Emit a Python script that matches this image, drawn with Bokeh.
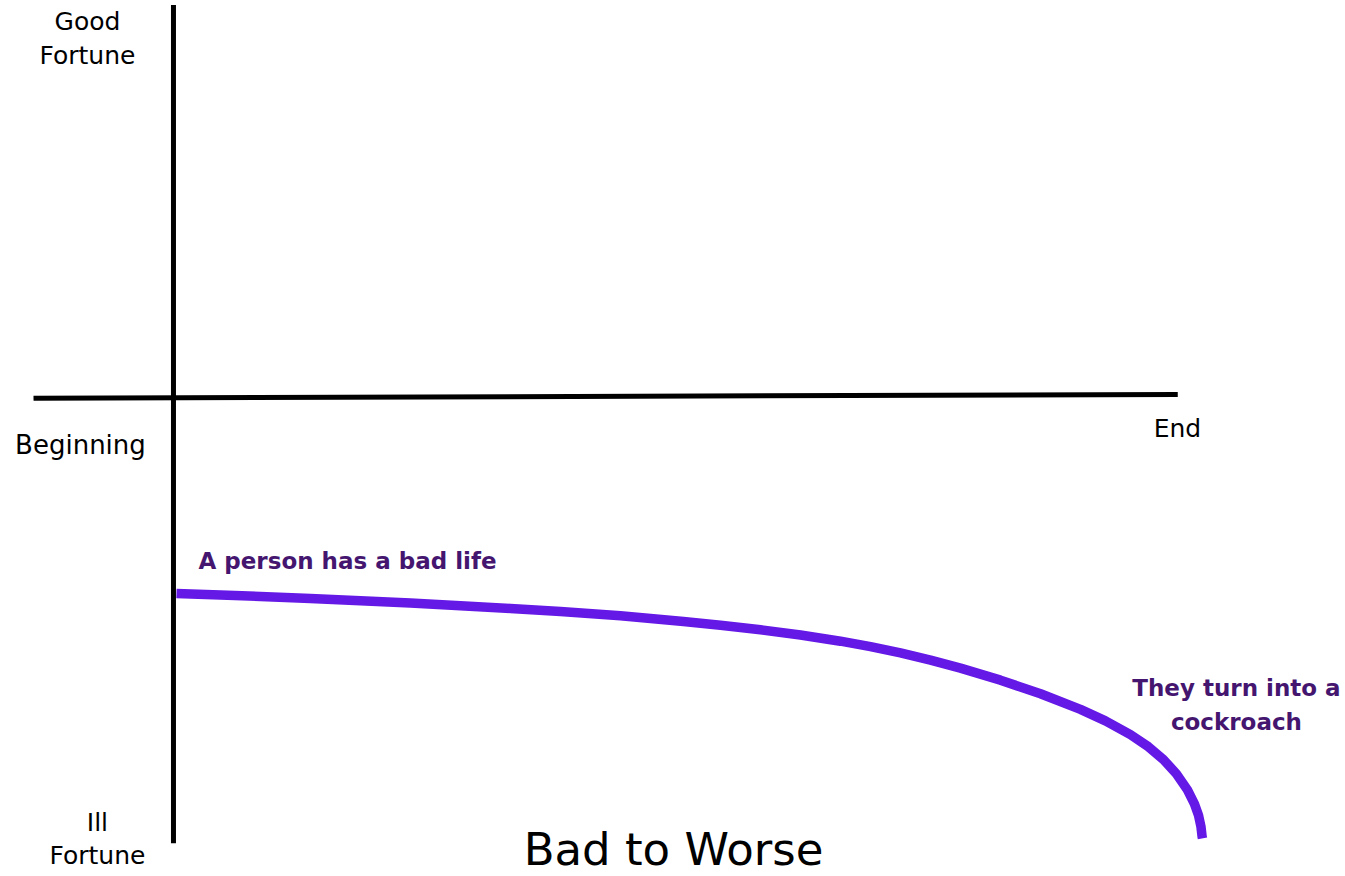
from bokeh.plotting import figure
from bokeh.models import Range1d
from bokeh.core.properties import value
from bokeh.embed import file_html
from bokeh.resources import INLINE

# Story progress (0 = beginning, 100 = end) vs fortune (+ good / - ill)
story_x = [0.29, 4.57, 8.45, 13.31, 18.17, 23.03, 27.89, 32.75, 37.61, 43.44,
           49.56, 53.16, 57.05, 60.93, 64.82, 67.74, 70.65, 73.57, 76.48, 80.37,
           84.26, 88.14, 90.57, 93.00, 94.75, 96.21, 97.47, 98.54, 99.22, 99.61,
           99.85, 99.96, 100.0]
fortune_y = [-4.444, -4.478, -4.512, -4.558, -4.608, -4.662, -4.721, -4.785, -4.855, -4.950,
             -5.079, -5.163, -5.268, -5.385, -5.526, -5.649, -5.791, -5.955, -6.138, -6.410,
             -6.719, -7.073, -7.333, -7.644, -7.921, -8.211, -8.535, -8.898, -9.215, -9.469,
             -9.726, -9.950, -10.0]

title_text = "Bad to Worse"
start_label = "A person has a bad life"
end_label = ["They turn into a", "cockroach"]
y_top_label = ["Good", "Fortune"]
y_bottom_label = ["Ill", "Fortune"]
x_start_label = "Beginning"
x_end_label = "End"

FONT = "DejaVu Sans"
PURPLE_LINE = "#6419E6"
PURPLE_TEXT = "#45166F"
DY = 0.2  # baseline correction

p = figure(width=1345, height=876, output_backend="svg", toolbar_location=None,
           x_range=Range1d(-16.81, 113.90), y_range=Range1d(-10.862, 9.002),
           min_border=0, outline_line_color=None)
p.axis.visible = False
p.grid.visible = False
p.background_fill_color = "white"
p.border_fill_color = "white"

# Hand-drawn style axes
p.segment(x0=[0], y0=[8.9], x1=[0], y1=[-10.11], line_color="black", line_width=5)
p.segment(x0=[-13.6], y0=[-0.02], x1=[97.6], y1=[0.07], line_color="black", line_width=5)

# Story arc
p.line(story_x, fortune_y, line_color=PURPLE_LINE, line_width=9.5,
       line_join="round", line_cap="butt")

def label(x, y, txt, size, color="black", style="normal", align="center"):
    p.text(x=[x], y=[y + DY], text=[txt], text_font=value(FONT), text_font_size=size,
           text_color=color, text_font_style=style, text_align=align,
           text_baseline="alphabetic")

label(-8.36, 8.32, y_top_label[0], "25px")
label(-8.36, 7.55, y_top_label[1], "25px")
label(-7.39, -9.84, y_bottom_label[0], "25px")
label(-7.39, -10.59, y_bottom_label[1], "25px")
label(-9.04, -1.27, x_start_label, "26px")
label(97.57, -0.91, x_end_label, "25px")

label(2.43, -3.90, start_label, "23px", PURPLE_TEXT, "bold", "left")
label(103.3, -6.78, end_label[0], "23px", PURPLE_TEXT, "bold")
label(103.3, -7.55, end_label[1], "23px", PURPLE_TEXT, "bold")

label(48.6, -10.46, title_text, "45px")

open("out.html", "w").write(file_html(p, INLINE))
